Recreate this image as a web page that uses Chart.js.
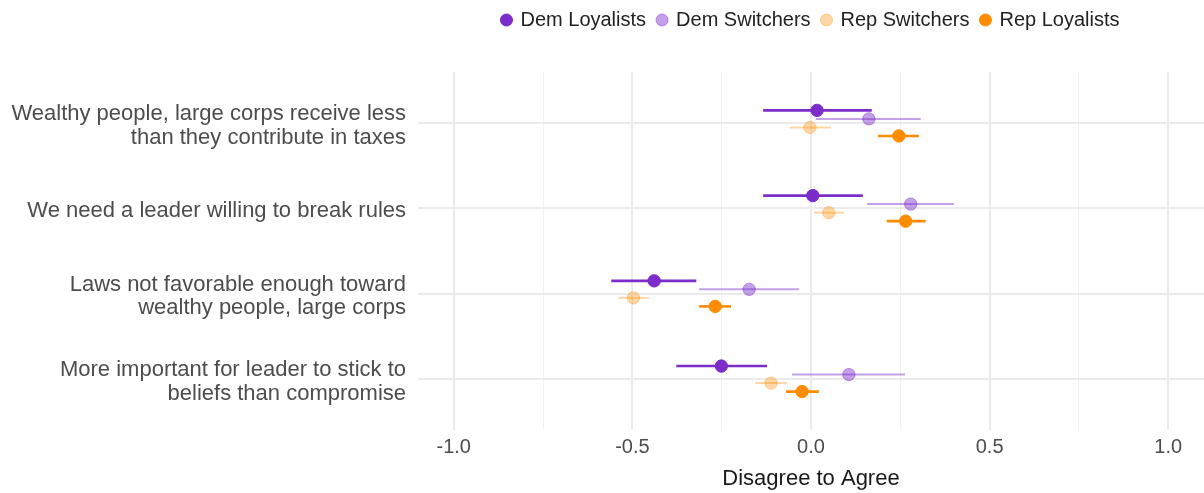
<!DOCTYPE html>
<html>
<head>
<meta charset="utf-8">
<script src="https://cdn.jsdelivr.net/npm/chart.js@4/dist/chart.umd.min.js"></script>
<style>
  html, body { margin: 0; padding: 0; background: #ffffff; }
  #wrap { width: 1204px; height: 493px; }
</style>
</head>
<body>
<div id="wrap"><canvas id="c" width="1204" height="493"></canvas></div>
<script>
// ---- data ----
const categories = [
  ["Wealthy people, large corps receive less", "than they contribute in taxes"],
  ["We need a leader willing to break rules"],
  ["Laws not favorable enough toward", "wealthy people, large corps"],
  ["More important for leader to stick to", "beliefs than compromise"]
];
const seriesNames = ["Dem Loyalists", "Dem Switchers", "Rep Switchers", "Rep Loyalists"];

const demLoyalMean   = [0.017, 0.005, -0.439, -0.251];
const demLoyalLow    = [-0.134, -0.134, -0.559, -0.377];
const demLoyalHigh   = [0.170, 0.145, -0.321, -0.123];

const demSwitchMean  = [0.162, 0.279, -0.173, 0.106];
const demSwitchLow   = [0.014, 0.157, -0.313, -0.053];
const demSwitchHigh  = [0.307, 0.400, -0.034, 0.263];

const repSwitchMean  = [-0.003, 0.050, -0.497, -0.112];
const repSwitchLow   = [-0.059, 0.008, -0.539, -0.156];
const repSwitchHigh  = [0.056, 0.092, -0.453, -0.067];

const repLoyalMean   = [0.246, 0.265, -0.268, -0.025];
const repLoyalLow    = [0.187, 0.212, -0.313, -0.070];
const repLoyalHigh   = [0.302, 0.321, -0.224, 0.022];

const xTickValues = [-1, -0.75, -0.5, -0.25, 0, 0.25, 0.5, 0.75, 1];
const xTitle = "Disagree to Agree";

// ---- styling ----
const FONT = "'Liberation Sans', Arial, Helvetica, sans-serif";
const seriesStyle = [
  { fill: 'rgb(123,44,201)',        stroke: 'rgb(123,44,201)',        lw: 2.6, dodge: -0.15 },
  { fill: 'rgba(123,44,201,0.45)',  stroke: 'rgba(123,44,201,0.45)',  lw: 2.0, dodge: -0.05 },
  { fill: 'rgba(255,140,0,0.35)',   stroke: 'rgba(255,140,0,0.35)',   lw: 2.0, dodge: 0.05 },
  { fill: 'rgb(255,140,0)',         stroke: 'rgb(255,140,0)',         lw: 2.6, dodge: 0.15 }
];
const seriesData = [
  [demLoyalMean, demLoyalLow, demLoyalHigh],
  [demSwitchMean, demSwitchLow, demSwitchHigh],
  [repSwitchMean, repSwitchLow, repSwitchHigh],
  [repLoyalMean, repLoyalLow, repLoyalHigh]
];

const datasets = [];
seriesData.forEach((sd, s) => {
  const st = seriesStyle[s];
  const [mean, lo, hi] = sd;
  // error bars
  for (let i = 0; i < categories.length; i++) {
    const y = (i + 1) + st.dodge;
    datasets.push({
      type: 'line',
      label: '_err',
      data: [{ x: lo[i], y: y }, { x: hi[i], y: y }],
      borderColor: st.stroke,
      borderWidth: st.lw,
      pointRadius: 0,
      fill: false,
      order: 3
    });
  }
  // points
  datasets.push({
    type: 'scatter',
    label: seriesNames[s],
    data: mean.map((m, i) => ({ x: m, y: (i + 1) + st.dodge })),
    backgroundColor: st.fill,
    borderColor: st.stroke,
    borderWidth: 1,
    pointRadius: 6.2,
    pointStyle: 'circle',
    order: 1
  });
});

const legendSpacer = {
  id: 'legendSpacer',
  beforeUpdate(chart) {
    const lg = chart.legend;
    if (lg && !lg._spaced) {
      const orig = lg.fit;
      lg.fit = function () { orig.call(this); this.height += 32; };
      lg._spaced = true;
    }
  }
};

new Chart(document.getElementById('c'), {
  type: 'scatter',
  data: { datasets },
  plugins: [legendSpacer],
  options: {
    responsive: false,
    animation: false,
    layout: { autoPadding: false, padding: { top: -2, left: 0, right: 0, bottom: 0 } },
    plugins: {
      tooltip: { enabled: false },
      legend: {
        position: 'top',
        align: 'center',
        fullSize: false,
        labels: {
          filter: (item) => item.text !== '_err',
          usePointStyle: true,
          pointStyle: 'circle',
          boxWidth: 8,
          boxHeight: 8.5,
          padding: 12,
          color: '#222222',
          font: { family: FONT, size: 20 }
        }
      }
    },
    scales: {
      x: {
        type: 'linear',
        min: -1.1,
        max: 1.1,
        afterBuildTicks: (scale) => { scale.ticks = xTickValues.map(v => ({ value: v })); },
        afterFit: (scale) => { scale.height = 63; scale.paddingLeft = 0; scale.paddingRight = 0; },
        border: { display: false },
        grid: {
          drawTicks: false,
          color: (ctx) => (ctx.tick && Math.abs(ctx.tick.value * 2 - Math.round(ctx.tick.value * 2)) < 1e-9) ? '#EBEBEB' : '#F2F2F2',
          lineWidth: (ctx) => (ctx.tick && Math.abs(ctx.tick.value * 2 - Math.round(ctx.tick.value * 2)) < 1e-9) ? 2 : 1
        },
        ticks: {
          padding: 5,
          color: '#4D4D4D',
          font: { family: FONT, size: 20 },
          maxRotation: 0,
          autoSkip: false,
          callback: (v) => (Math.abs(v * 2 - Math.round(v * 2)) < 1e-9) ? Number(v).toFixed(1) : ''
        },
        title: {
          display: true,
          text: xTitle,
          color: '#1A1A1A',
          font: { family: FONT, size: 22 },
          padding: { top: 0, bottom: 1 }
        }
      },
      y: {
        type: 'linear',
        reverse: true,
        min: 0.4,
        max: 4.6,
        afterBuildTicks: (scale) => { scale.ticks = categories.map((c, i) => ({ value: i + 1 })); },
        afterFit: (scale) => { scale.width = 418; scale.paddingTop = 0; scale.paddingBottom = 0; },
        border: { display: false },
        grid: { drawTicks: false, color: '#EBEBEB', lineWidth: 2 },
        ticks: {
          padding: 12,
          labelOffset: 3,
          color: '#4D4D4D',
          autoSkip: false,
          font: { family: FONT, size: 22, lineHeight: 1.07 },
          callback: (v) => {
            const i = Math.round(v) - 1;
            return categories[i] || '';
          }
        }
      }
    }
  }
});
</script>
</body>
</html>
